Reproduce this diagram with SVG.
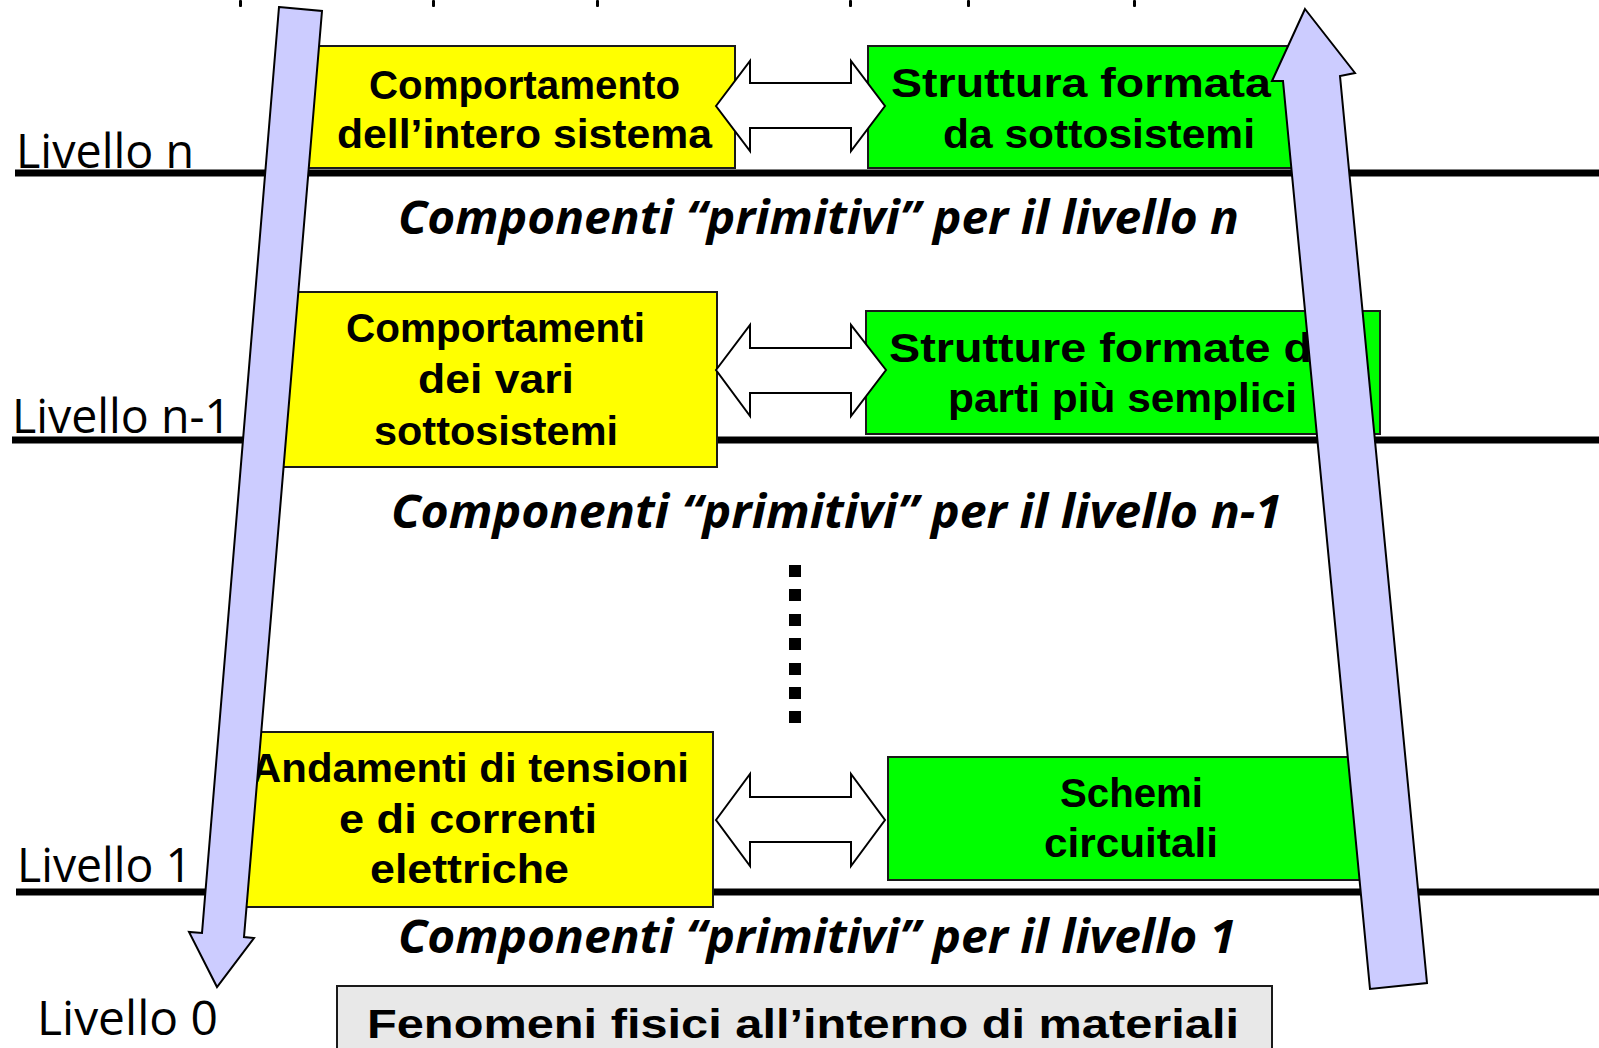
<svg xmlns="http://www.w3.org/2000/svg" width="1599" height="1048" viewBox="0 0 1599 1048">
  <style>
    .level { stroke: #000; stroke-width: 7; }
    .lvl { font-family: "Open Sans", "Liberation Sans", sans-serif; font-size: 48px; fill: #000; }
    .box { stroke: #1a1a1a; stroke-width: 2; }
    .yellow { fill: #FFFF00; }
    .green { fill: #00FF00; }
    .grey { fill: #E8E8E8; }
    .lbl { font-family: "Liberation Sans", "Open Sans", sans-serif; font-weight: bold; font-size: 41px; fill: #000; }
    .prim { font-family: "Open Sans", "Liberation Sans", sans-serif; font-weight: bold; font-style: italic; font-size: 47px; fill: #000; }
    .dbl { fill: #FFFFFF; stroke: #000; stroke-width: 2; stroke-linejoin: miter; }
    .flow { fill: #CCCCFF; stroke: #000; stroke-width: 2; stroke-linejoin: miter; }
    .tick { fill: #000; }
  </style>

  <!-- descender fragments of the clipped line at the top edge -->
  <g id="top-fragments">
    <rect class="tick" x="239" y="0" width="3" height="7" rx="1"/>
    <rect class="tick" x="432" y="0" width="3" height="7" rx="1"/>
    <rect class="tick" x="596" y="0" width="3" height="7" rx="1"/>
    <rect class="tick" x="849" y="0" width="3" height="7" rx="1"/>
    <rect class="tick" x="967" y="0" width="3" height="7" rx="1"/>
    <rect class="tick" x="1133" y="0" width="3" height="7" rx="1"/>
  </g>

  <!-- level separators and labels -->
  <g id="levels">
    <line class="level" x1="15" y1="173" x2="1599" y2="173"/>
    <line class="level" x1="12" y1="440" x2="1599" y2="440"/>
    <line class="level" x1="16" y1="892" x2="1599" y2="892"/>
    <text class="lvl" x="16" y="168" textLength="178" lengthAdjust="spacingAndGlyphs">Livello n</text>
    <text class="lvl" x="12" y="433" textLength="219" lengthAdjust="spacingAndGlyphs">Livello n-1</text>
    <text class="lvl" x="17" y="882" textLength="175" lengthAdjust="spacingAndGlyphs">Livello 1</text>
    <text class="lvl" x="37" y="1035" textLength="181" lengthAdjust="spacingAndGlyphs">Livello 0</text>
  </g>

  <!-- primitive components of each level -->
  <g id="primitives">
    <text class="prim" x="398" y="234" textLength="841" lengthAdjust="spacingAndGlyphs">Componenti “primitivi” per il livello n</text>
    <text class="prim" x="391" y="528" textLength="891" lengthAdjust="spacingAndGlyphs">Componenti “primitivi” per il livello n-1</text>
    <text class="prim" x="398" y="953" textLength="838" lengthAdjust="spacingAndGlyphs">Componenti “primitivi” per il livello 1</text>
  </g>

  <!-- vertical ellipsis between levels -->
  <g id="ellipsis" fill="#000">
    <rect x="789" y="565" width="12" height="12"/>
    <rect x="789" y="589" width="12" height="12"/>
    <rect x="789" y="614" width="12" height="12"/>
    <rect x="789" y="638" width="12" height="12"/>
    <rect x="789" y="663" width="12" height="12"/>
    <rect x="789" y="687" width="12" height="12"/>
    <rect x="789" y="711" width="12" height="12"/>
  </g>

  <!-- behaviour nodes (yellow) -->
  <g id="behaviour-n">
    <rect class="box yellow" x="292" y="46" width="443" height="122"/>
    <text class="lbl" x="369" y="99" textLength="311" lengthAdjust="spacingAndGlyphs">Comportamento</text>
    <text class="lbl" x="337" y="148" textLength="375" lengthAdjust="spacingAndGlyphs">dell’intero sistema</text>
  </g>
  <g id="behaviour-n-1">
    <rect class="box yellow" x="270" y="292" width="447" height="175"/>
    <text class="lbl" x="346" y="342" textLength="299" lengthAdjust="spacingAndGlyphs">Comportamenti</text>
    <text class="lbl" x="418" y="393" textLength="156" lengthAdjust="spacingAndGlyphs">dei vari</text>
    <text class="lbl" x="374" y="445" textLength="244" lengthAdjust="spacingAndGlyphs">sottosistemi</text>
  </g>
  <g id="behaviour-1">
    <rect class="box yellow" x="232" y="732" width="481" height="175"/>
    <text class="lbl" x="251" y="782" textLength="438" lengthAdjust="spacingAndGlyphs">Andamenti di tensioni</text>
    <text class="lbl" x="339" y="833" textLength="258" lengthAdjust="spacingAndGlyphs">e di correnti</text>
    <text class="lbl" x="370" y="883" textLength="199" lengthAdjust="spacingAndGlyphs">elettriche</text>
  </g>

  <!-- structure nodes (green) -->
  <g id="structure-n">
    <rect class="box green" x="868" y="46" width="432" height="122"/>
    <text class="lbl" x="891" y="97" textLength="380" lengthAdjust="spacingAndGlyphs">Struttura formata</text>
    <text class="lbl" x="943" y="148" textLength="312" lengthAdjust="spacingAndGlyphs">da sottosistemi</text>
  </g>
  <g id="structure-n-1">
    <rect class="box green" x="866" y="311" width="514" height="123"/>
    <text class="lbl" x="889" y="362" textLength="449" lengthAdjust="spacingAndGlyphs">Strutture formate da</text>
    <text class="lbl" x="948" y="412" textLength="349" lengthAdjust="spacingAndGlyphs">parti più semplici</text>
  </g>
  <g id="structure-1">
    <rect class="box green" x="888" y="757" width="492" height="123"/>
    <text class="lbl" x="1060" y="807" textLength="143" lengthAdjust="spacingAndGlyphs">Schemi</text>
    <text class="lbl" x="1044" y="857" textLength="174" lengthAdjust="spacingAndGlyphs">circuitali</text>
  </g>

  <!-- physical phenomena at level 0 -->
  <g id="physics-0">
    <rect class="box grey" x="337" y="986" width="935" height="80"/>
    <text class="lbl" x="367" y="1038" textLength="872" lengthAdjust="spacingAndGlyphs">Fenomeni fisici all’interno di materiali</text>
  </g>

  <!-- connectors -->
  <g id="connectors">
    <!-- two-way correspondence between behaviour and structure -->
    <polygon class="dbl" points="716,106 750,61 750,83 851,83 851,61 885,106 851,151 851,128 750,128 750,151"/>
    <polygon class="dbl" points="716,370 750,325 750,348 851,348 851,325 886,370 851,416 851,393 750,393 750,416"/>
    <polygon class="dbl" points="716,820 750,774 750,797 851,797 851,774 885,820 851,866 851,842 750,842 750,866"/>
    <!-- top-down direction -->
    <polygon class="flow" points="279,7 322,11 244,937 254,938 217,987 189,932 202,933"/>
    <!-- bottom-up direction -->
    <polygon class="flow" points="1305,9 1355,73 1340,76 1427,983 1370,989 1283,81 1272,81"/>
  </g>
</svg>
